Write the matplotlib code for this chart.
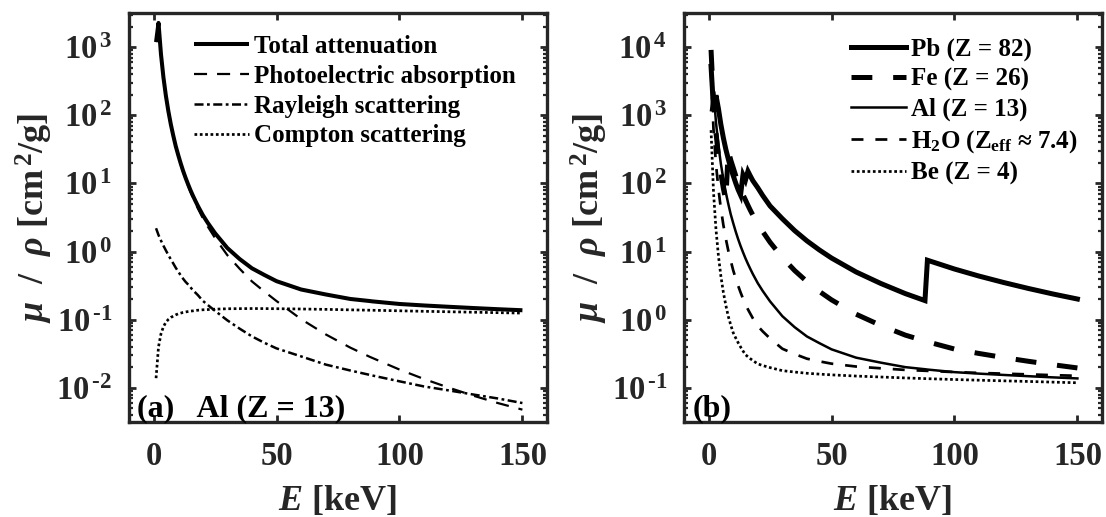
import numpy as np
import matplotlib
matplotlib.use("Agg")
import matplotlib.pyplot as plt
from matplotlib.ticker import FixedLocator, LogLocator, FuncFormatter, NullFormatter

# ---------------------------------------------------------------- data
# photon energy grid [keV]
energy_keV = [1, 2, 3, 4, 5, 6, 7, 8, 9, 10, 11, 12, 13, 14, 15, 16, 17, 18,
              20, 22, 25, 30, 35, 40, 45, 50, 60, 70, 80, 88, 89,
              100, 110, 120, 130, 140, 150]

# (a) aluminium: interaction components [cm^2/g]
al_total = [1185, 2263, 788, 360.5, 193.4, 115.3, 73.9, 50.33, 35.3, 26.23,
            19.8, 15.3, 12.1, 9.76, 7.955, 6.6, 5.54, 4.68, 3.441, 2.65,
            1.86, 1.128, 0.778, 0.5685, 0.455, 0.3681, 0.2778, 0.235,
            0.2018, 0.188, 0.186, 0.1704, 0.162, 0.155, 0.1486, 0.1428, 0.1378]
al_photo = [1183, 2261, 786, 359, 192, 114, 73, 49.5, 35.3, 25.6, 19.2, 14.8,
            11.6, 9.3, 7.5, 6.2, 5.15, 4.3, 3.1, 2.34, 1.58, 0.885, 0.56,
            0.365, 0.26, 0.188, 0.102, 0.061, 0.039, 0.0285, 0.0275, 0.0186,
            0.0135, 0.0101, 0.0077, 0.006, 0.0048]
al_rayleigh = [2.2, 1.75, 1.45, 1.22, 1.04, 0.89, 0.77, 0.67, 0.58, 0.51,
               0.45, 0.40, 0.36, 0.33, 0.30, 0.27, 0.25, 0.23, 0.19, 0.165,
               0.135, 0.098, 0.074, 0.057, 0.046, 0.038, 0.029, 0.022, 0.018,
               0.0155, 0.0152, 0.0125, 0.0105, 0.0092, 0.008, 0.007, 0.006]
al_compton = [0.0139, 0.04, 0.062, 0.079, 0.092, 0.101, 0.108, 0.113, 0.118,
              0.122, 0.125, 0.128, 0.130, 0.132, 0.134, 0.135, 0.137, 0.138,
              0.140, 0.141, 0.143, 0.145, 0.1455, 0.146, 0.1457, 0.1452,
              0.1438, 0.142, 0.1397, 0.138, 0.1378, 0.1353, 0.133, 0.131,
              0.129, 0.127, 0.1252]

# (b) total mass attenuation of several materials [cm^2/g]
pb_total = [5210, 1285, 1965, 1251, 730.4, 467.2, 318, 228.7, 168, 130.6,
            101.9, 81.2, 67.5, 133.6, 111.6, 150.7, 128, 109.6, 86.36, 66.5,
            46.7, 30.32, 20.3, 14.36, 10.6, 8.041, 5.021, 3.41, 2.419, 1.91,
            7.47, 5.549, 4.37, 3.52, 2.88, 2.39, 2.014]
fe_total = [9085, 1626, 557.6, 256.7, 139.5, 84.84, 56, 305.6, 221, 170.6,
            131, 103, 82.9, 68, 57.08, 47.7, 40.2, 34.3, 25.68, 19.7, 13.7,
            8.176, 5.27, 3.629, 2.61, 1.958, 1.205, 0.826, 0.5952, 0.487,
            0.475, 0.3717, 0.32, 0.279, 0.246, 0.219, 0.1964]
water_total = [4078, 617.3, 192.9, 82.78, 42.58, 24.64, 15.5, 10.37, 7.37,
               5.329, 4.06, 3.17, 2.52, 2.04, 1.673, 1.42, 1.22, 1.05, 0.8096,
               0.676, 0.531, 0.3756, 0.314, 0.2683, 0.2455, 0.2269, 0.2059,
               0.194, 0.1837, 0.1785, 0.1778, 0.1707, 0.166, 0.162, 0.158,
               0.154, 0.1505]
be_total = [604.1, 74.69, 21.27, 8.685, 4.369, 2.527, 1.64, 1.124, 0.84,
            0.6466, 0.543, 0.462, 0.399, 0.348, 0.307, 0.2865, 0.268, 0.252,
            0.2251, 0.213, 0.1986, 0.1792, 0.171, 0.164, 0.1594, 0.1554,
            0.1493, 0.1446, 0.1401, 0.137, 0.1366, 0.1328, 0.1298, 0.127,
            0.1244, 0.1216, 0.119]

labels_a = ["Total attenuation", "Photoelectric absorption",
            "Rayleigh scattering", "Compton scattering"]
labels_b = ["Pb (Z = 82)", "Fe (Z = 26)", "Al (Z = 13)",
            r"H$_{\mathbf{2}}$O (Z$_{\mathbf{eff}}$ ≈ 7.4)", "Be (Z = 4)"]
x_ticks = [0, 50, 100, 150]

# ---------------------------------------------------------------- style
plt.rcParams["font.family"] = ["Liberation Serif", "DejaVu Serif"]
plt.rcParams["font.weight"] = "bold"
plt.rcParams["axes.labelweight"] = "bold"
plt.rcParams["mathtext.fontset"] = "custom"
plt.rcParams["mathtext.rm"] = "Liberation Serif:bold"
plt.rcParams["mathtext.bf"] = "Liberation Serif:bold"
plt.rcParams["mathtext.it"] = "Liberation Serif:bold:italic"
plt.rcParams["lines.scale_dashes"] = False

AX_COLOR = "#262626"
TICK_FS = 23.5
LABEL_FS = 26
LEG_FS = 18

fig = plt.figure(figsize=(11.06, 5.17), dpi=100)
ax_a = fig.add_axes([129 / 1106, 1 - 422 / 517, 418 / 1106, 409 / 517])
ax_b = fig.add_axes([684 / 1106, 1 - 422 / 517, 418 / 1106, 409 / 517])


def decade_label(v, pos):
    p = int(round(np.log10(v)))
    if p < 0:
        return r"$\mathbf{10^{\,\text{-}%d}}$" % (-p)
    return r"$\mathbf{10^{\,%d}}$" % p


def style_axes(ax, ylo, yhi):
    ax.set_yscale("log")
    ax.set_xlim(-10, 160)
    ax.set_ylim(10.0 ** (ylo - 0.5), 10.0 ** (yhi + 0.5))
    ax.xaxis.set_major_locator(FixedLocator(x_ticks))
    ax.yaxis.set_major_locator(FixedLocator([10.0 ** k for k in range(ylo, yhi + 1)]))
    ax.yaxis.set_minor_locator(LogLocator(base=10, subs=np.arange(2, 10), numticks=20))
    ax.yaxis.set_major_formatter(FuncFormatter(decade_label))
    ax.yaxis.set_minor_formatter(NullFormatter())
    for s in ax.spines.values():
        s.set_linewidth(2.4)
        s.set_color(AX_COLOR)
    ax.tick_params(which="both", direction="in", top=True, right=True,
                   color=AX_COLOR, labelcolor=AX_COLOR)
    ax.tick_params(which="major", length=5, width=2.0, labelsize=TICK_FS)
    ax.tick_params(axis="x", which="major", pad=14)
    ax.tick_params(axis="y", which="major", pad=12)
    ax.tick_params(which="minor", length=3, width=1.6)
    ax.set_xlabel(r"$E$ [keV]", fontsize=LABEL_FS, color=AX_COLOR, labelpad=8)
    ax.set_ylabel(r"$\mu$  /  $\rho$ [cm$^{\,\mathbf{2}}$/g]",
                  fontsize=LABEL_FS, color=AX_COLOR)
    ax.yaxis.set_label_coords(-0.178, 0.5)


# ---------------------------------------------------------------- panel (a)
E = np.array(energy_keV)
ax_a.plot(E, al_total, color="black", lw=2.9, solid_capstyle="butt")
ax_a.plot(E, al_photo, color="black", lw=1.6,
          linestyle=(0, (9.4, 7.2)), dash_capstyle="butt")
ax_a.plot(E, al_rayleigh, color="black", lw=1.8,
          linestyle=(0, (6.5, 2.5, 2.0, 2.5)), dash_capstyle="butt")
ax_a.plot(E, al_compton, color="black", lw=1.95,
          linestyle=(0, (1.95, 1.9)), dash_capstyle="butt")
style_axes(ax_a, -2, 3)
ax_a.legend(ax_a.get_lines(), labels_a, loc="upper left",
            bbox_to_anchor=(0.1555, 0.946), frameon=False, fontsize=LEG_FS,
            handlelength=2.2, handletextpad=0.2, labelspacing=0.27,
            borderpad=0, borderaxespad=0)
ax_a.text(0.02, 0.013, "(a)   Al (Z = 13)", transform=ax_a.transAxes,
          fontsize=23, va="baseline", ha="left", color="black")

# ---------------------------------------------------------------- panel (b)
ax_b.plot(E, pb_total, color="black", lw=3.6, solid_joinstyle="miter")
ax_b.plot(E, fe_total, color="black", lw=3.6,
          linestyle=(0, (15, 15)), dash_capstyle="butt")
ax_b.plot(E, al_total, color="black", lw=1.8)
ax_b.plot(E, water_total, color="black", lw=1.95,
          linestyle=(0, (8.6, 8.6)), dash_capstyle="butt")
ax_b.plot(E, be_total, color="black", lw=1.95,
          linestyle=(0, (1.95, 1.9)), dash_capstyle="butt")
style_axes(ax_b, -1, 4)
ax_b.legend(ax_b.get_lines(), labels_b, loc="upper left",
            bbox_to_anchor=(0.3995, 0.94), frameon=False, fontsize=LEG_FS,
            handlelength=2.2, handletextpad=0.2, labelspacing=0.27,
            borderpad=0, borderaxespad=0)
ax_b.text(0.02, 0.013, "(b)", transform=ax_b.transAxes,
          fontsize=23, va="baseline", ha="left", color="black")

fig.savefig("out.png", dpi=100)
